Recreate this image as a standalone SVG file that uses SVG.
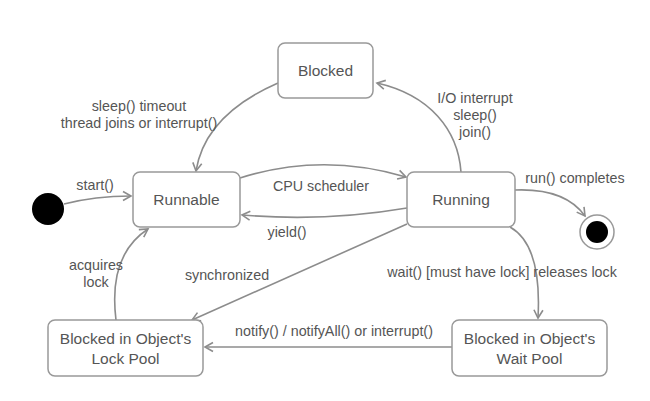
<svg xmlns="http://www.w3.org/2000/svg" width="650" height="401" viewBox="0 0 650 401">
<style>
.node rect{fill:#fff;stroke:#999;stroke-width:1.5}
.nt{font-family:"Liberation Sans",Arial,sans-serif;font-size:15.5px;fill:#555;text-anchor:middle}
.lt{font-family:"Liberation Sans",Arial,sans-serif;font-size:14.3px;fill:#555;text-anchor:middle}
.edges path{fill:none;stroke:#8c8c8c;stroke-width:1.6}
</style>
<defs>
<marker id="arr" markerUnits="userSpaceOnUse" markerWidth="12" markerHeight="12" refX="10" refY="6" orient="auto">
<path d="M2,1.5 L10,6 L2,10.5" fill="none" stroke="#8c8c8c" stroke-width="1.6"/>
</marker>
</defs>
<rect width="650" height="401" fill="#fff"/>
<g class="edges">
<path d="M64,204 Q95,196 131,196" marker-end="url(#arr)"/>
<path d="M240,178 Q322,152 406,177" marker-end="url(#arr)"/>
<path d="M407,208 Q325,222 242,215" marker-end="url(#arr)"/>
<path d="M278,83 Q205,115 196,171" marker-end="url(#arr)"/>
<path d="M461,172 C458,130 430,95 377,83" marker-end="url(#arr)"/>
<path d="M515,190 Q565,188 585,216" marker-end="url(#arr)"/>
<path d="M510,227 Q542,245 538,318" marker-end="url(#arr)"/>
<path d="M407,224 L192,320" marker-end="url(#arr)"/>
<path d="M116,320 Q108,255 148,229" marker-end="url(#arr)"/>
<path d="M452,347 L205,347" marker-end="url(#arr)"/>
</g>
<g class="labels">
<text class="lt" x="95" y="190">start()</text>
<text class="lt" x="321" y="191">CPU scheduler</text>
<text class="lt" x="287" y="237">yield()</text>
<text class="lt" x="139" y="111">sleep() timeout</text>
<text class="lt" x="139" y="128">thread joins or interrupt()</text>
<text class="lt" x="475" y="103">I/O interrupt</text>
<text class="lt" x="475" y="120">sleep()</text>
<text class="lt" x="475" y="137">join()</text>
<text class="lt" x="575" y="183">run() completes</text>
<text class="lt" x="96" y="270">acquires</text>
<text class="lt" x="96" y="287">lock</text>
<text class="lt" x="227" y="280">synchronized</text>
<text class="lt" x="502" y="277">wait() [must have lock] releases lock</text>
<text class="lt" x="334" y="336">notify() / notifyAll() or interrupt()</text>
</g>
<g id="start"><circle cx="48" cy="209" r="16" fill="#000"/></g>
<g id="final"><circle cx="597" cy="232" r="17" fill="#fff" stroke="#999" stroke-width="1.5"/><circle cx="597" cy="232" r="11" fill="#000"/></g>
<g id="blocked" class="node"><rect x="278" y="43" width="95" height="55" rx="7"/><text class="nt" x="325.5" y="76">Blocked</text></g>
<g id="runnable" class="node"><rect x="133" y="172" width="107" height="55" rx="7"/><text class="nt" x="186.5" y="205">Runnable</text></g>
<g id="running" class="node"><rect x="407" y="172" width="108" height="55" rx="7"/><text class="nt" x="461" y="205">Running</text></g>
<g id="lockpool" class="node"><rect x="48" y="320" width="155" height="56" rx="7"/><text class="nt" x="125.5" y="344">Blocked in Object's</text><text class="nt" x="125.5" y="364">Lock Pool</text></g>
<g id="waitpool" class="node"><rect x="452" y="320" width="155" height="56" rx="7"/><text class="nt" x="529.5" y="344">Blocked in Object's</text><text class="nt" x="529.5" y="364">Wait Pool</text></g>
</svg>
